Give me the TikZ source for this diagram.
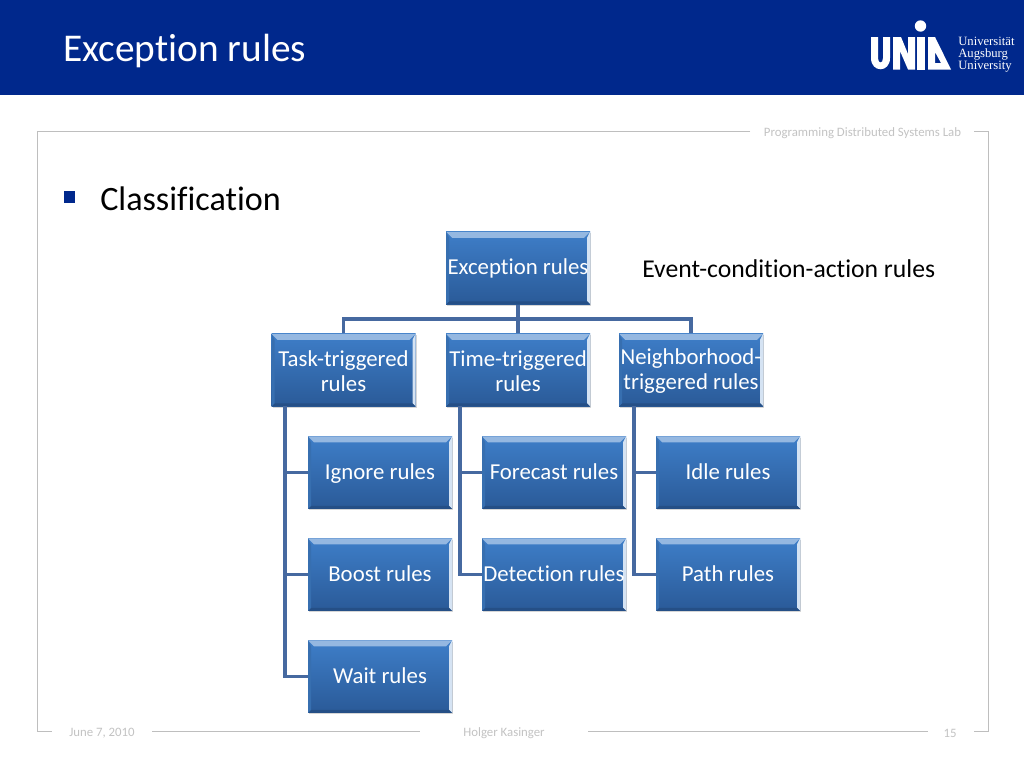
\documentclass[tikz,border=0pt]{standalone}
\usepackage{fontspec}
\setmainfont[Ligatures=NoCommon]{Carlito}
\newfontfamily\logofont{Liberation Serif}
\usetikzlibrary{calc}
\definecolor{uniblue}{RGB}{0,40,140}
\definecolor{boxtop}{RGB}{62,126,200}
\definecolor{boxbot}{RGB}{42,90,152}
\definecolor{linkblue}{RGB}{70,105,160}
\definecolor{frame}{RGB}{190,190,190}
\definecolor{foot}{RGB}{195,195,195}
\tikzset{
  x=0.75pt,y=-0.75pt,
  framel/.style={draw=frame,line width=0.75pt},
  link/.style={draw=linkblue,line width=2.3pt},
  footer/.style={text=foot,font=\fontsize{9.6}{11}\selectfont,inner sep=0pt},
  twolab/.style={label={[text=white,align=center,inner sep=0pt,font=\fontsize{17.1}{18.8}\selectfont,yshift=-0.6pt]center:{#1}}},
  bevelbox/.style={
    rectangle,inner sep=0pt,
    minimum width=144*0.75pt,minimum height=72.5*0.75pt,
    top color=boxtop,bottom color=boxbot,
    text=white,align=center,
    font=\fontsize{17.1}{18.8}\selectfont,
    execute at begin node={\rule{0pt}{\dimexpr\ht\strutbox+2.6pt\relax}},execute at end node=\strut,
    preaction={fill=black!45,opacity=.35,transform canvas={xshift=0.8pt,yshift=-1pt}},
    path picture={
      \coordinate (SW) at (path picture bounding box.south west);
      \coordinate (NE) at (path picture bounding box.north east);
      \coordinate (NW) at (path picture bounding box.north west);
      \coordinate (SE) at (path picture bounding box.south east);
      \fill[white!45!boxtop] (NW) -- (NE) -- ($(NE)+(-6,6)$) -- ($(NW)+(6,6)$) -- cycle;
      \fill[white!78!boxtop] (NE) -- (SE) -- ($(SE)+(-3,-3)$) -- ($(NE)+(-3,6)$) -- cycle;
      \fill[boxbot!88!black] (SW) -- (SE) -- ($(SE)+(-3,-3)$) -- ($(SW)+(3,-3)$) -- cycle;
      \fill[boxtop!88!black] (NW) -- (SW) -- ($(SW)+(3,-3)$) -- ($(NW)+(3,6)$) -- cycle;
    }
  }
}
\begin{document}
\begin{tikzpicture}
\useasboundingbox (0,0) rectangle (1024,768);
\fill[white] (0,0) rectangle (1024,768);
\fill[uniblue] (0,0) rectangle (1024,95);
\node[anchor=west,text=white,inner sep=0pt,font=\fontsize{29.5}{34}\selectfont] (title) at (63,51) {Exception rules};
% logo
\fill[white] (871,37) -- (878,37) -- (878,58) .. controls (878,64) and (883,64) .. (883,58) -- (883,37) -- (890,37) -- (890,58) .. controls (890,73) and (871,73) .. (871,58) -- cycle;
\fill[white] (893,69.5) -- (893,37) -- (901,37) -- (908,54) -- (908,37) -- (915,37) -- (915,69.5) -- (908,69.5) -- (900,51) -- (900,69.5) -- cycle;
\fill[white] (917,37) rectangle (925,69.5);
\fill[white] (920.5,26) circle (5.7);
\fill[white,even odd rule] (928,69.5) -- (928,37) -- (935,37) -- (951,69.5) -- cycle (935,52) -- (935,63) -- (941,63) -- cycle;
\node[anchor=west,text=white,inner sep=0pt,align=left,font=\logofont\fontsize{9.5}{9}\selectfont] (logotext) at (958,54.5) {Universität\\Augsburg\\University};
% frame
\draw[framel] (750,131) -- (37,131) -- (37,731) -- (52,731);
\draw[framel] (974,131) -- (988,131) -- (988,731) -- (974,731);
\draw[framel] (152,731) -- (420,731);
\draw[framel] (588,731) -- (928,731);
\node[footer] (lab) at (862.5,133) {Programming Distributed Systems Lab};
\node[footer] (date) at (102,733) {June 7, 2010};
\node[footer] (auth) at (504,733) {Holger Kasinger};
\node[footer] (num) at (950,733) {15};
% body
\fill[uniblue] (64,191) rectangle (75,202.5);
\node[anchor=west,inner sep=0pt,font=\fontsize{25.6}{30}\selectfont] (cls) at (100,199) {Classification};
\node[anchor=west,inner sep=0pt,font=\fontsize{19.25}{23}\selectfont] (eca) at (642,269) {Event-condition-action rules};
% boxes
\node[bevelbox] (root) at (518,268) {Exception rules};
\node[bevelbox,twolab={Task-triggered\\rules}] (task) at (343.5,370) {};
\node[bevelbox,twolab={Time-triggered\\rules}] (time) at (518,370) {};
\node[bevelbox,twolab={Neighborhood-\\triggered rules}] (neigh) at (691,370) {};
\node[bevelbox] (ignore) at (380,472.5) {Ignore rules};
\node[bevelbox] (boost) at (380,574.5) {Boost rules};
\node[bevelbox] (wait) at (380,676.5) {Wait rules};
\node[bevelbox] (forecast) at (554,472.5) {Forecast rules};
\node[bevelbox] (detect) at (554,574.5) {Detection rules};
\node[bevelbox] (idle) at (728,472.5) {Idle rules};
\node[bevelbox] (pth) at (728,574.5) {Path rules};
% connectors
\coordinate (bus) at (518,319);
\coordinate (ttop) at (285,406);
\coordinate (mtop) at (460,406);
\coordinate (ntop) at (634,406);
\draw[link] (root.south) -- (time.north);
\draw[link] (task.north) |- (bus);
\draw[link] (neigh.north) |- (bus);
\draw[link] (ttop) |- (ignore.west);
\draw[link] (ttop) |- (boost.west);
\draw[link] (ttop) |- (wait.west);
\draw[link] (mtop) |- (forecast.west);
\draw[link] (mtop) |- (detect.west);
\draw[link] (ntop) |- (idle.west);
\draw[link] (ntop) |- (pth.west);
\end{tikzpicture}
\end{document}
